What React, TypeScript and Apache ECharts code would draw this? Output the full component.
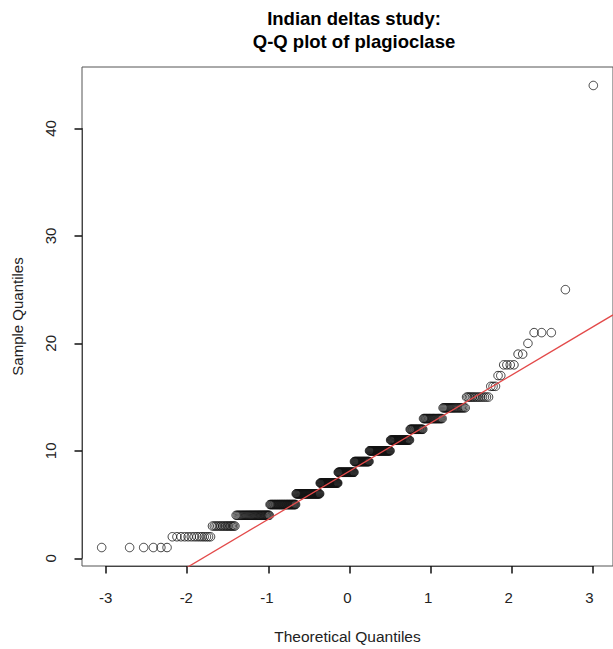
import React, { useEffect, useRef } from "react";
import * as echarts from "echarts";

// Sample values (sorted distinct) and how many observations take each value
const sampleValues = [1, 2, 3, 4, 5, 6, 7, 8, 9, 10, 11, 12, 13, 14, 15, 16, 17, 18, 19, 20, 21, 25, 44];
const sampleCounts = [6, 14, 16, 37, 41, 46, 38, 35, 32, 42, 34, 20, 24, 21, 14, 3, 2, 4, 2, 1, 3, 1, 1];
const xTicks = [-3, -2, -1, 0, 1, 2, 3];
const yTicks = [0, 10, 20, 30, 40];

const FONT = "'Liberation Sans', Arial, Helvetica, sans-serif";

function qnorm(p: number): number {
  const a = [-3.969683028665376e1, 2.209460984245205e2, -2.759285104469687e2, 1.38357751867269e2, -3.066479806614716e1, 2.506628277459239];
  const b = [-5.447609879822406e1, 1.615858368580409e2, -1.556989798598866e2, 6.680131188771972e1, -1.328068155288572e1];
  const c = [-7.784894002430293e-3, -3.223964580411365e-1, -2.400758277161838, -2.549732539343734, 4.374664141464968, 2.938163982698783];
  const d = [7.784695709041462e-3, 3.224671290700398e-1, 2.445134137142996, 3.754408661907416];
  const plow = 0.02425;
  const phigh = 1 - plow;
  if (p < plow) {
    const q = Math.sqrt(-2 * Math.log(p));
    return (((((c[0] * q + c[1]) * q + c[2]) * q + c[3]) * q + c[4]) * q + c[5]) / ((((d[0] * q + d[1]) * q + d[2]) * q + d[3]) * q + 1);
  }
  if (p <= phigh) {
    const q = p - 0.5;
    const r = q * q;
    return ((((((a[0] * r + a[1]) * r + a[2]) * r + a[3]) * r + a[4]) * r + a[5]) * q) / (((((b[0] * r + b[1]) * r + b[2]) * r + b[3]) * r + b[4]) * r + 1);
  }
  const q = Math.sqrt(-2 * Math.log(1 - p));
  return -(((((c[0] * q + c[1]) * q + c[2]) * q + c[3]) * q + c[4]) * q + c[5]) / ((((d[0] * q + d[1]) * q + d[2]) * q + d[3]) * q + 1);
}

function quantile7(sorted: number[], prob: number): number {
  const h = (sorted.length - 1) * prob;
  const lo = Math.floor(h);
  const hi = Math.ceil(h);
  return sorted[lo] + (h - lo) * (sorted[hi] - sorted[lo]);
}

export default function App() {
  const ref = useRef<HTMLDivElement>(null);

  useEffect(() => {
    if (!ref.current) return;
    const chart = echarts.init(ref.current, null, { renderer: "svg" });

    const sample: number[] = [];
    sampleValues.forEach((v, k) => {
      for (let j = 0; j < sampleCounts[k]; j++) sample.push(v);
    });
    const n = sample.length;
    const points = sample.map((v, i) => [qnorm((i + 1 - 0.5) / n), v]);

    const xs = points.map((p) => p[0]);
    const xMinD = Math.min(...xs);
    const xMaxD = Math.max(...xs);
    const xPad = (xMaxD - xMinD) * 0.04;
    const yMinD = Math.min(...sample);
    const yMaxD = Math.max(...sample);
    const yPad = (yMaxD - yMinD) * 0.04;
    const xMin = xMinD - xPad;
    const xMax = xMaxD + xPad;
    const yMin = yMinD - yPad;
    const yMax = yMaxD + yPad;

    const q1 = quantile7(sample, 0.25);
    const q3 = quantile7(sample, 0.75);
    const slope = (q3 - q1) / (qnorm(0.75) - qnorm(0.25));
    const intercept = q1 - slope * qnorm(0.25);
    const lineData = [
      [xMin, intercept + slope * xMin],
      [xMax, intercept + slope * xMax],
    ];

    // Main plot region (pixels)
    const GL = 82, GT = 67, GW = 535, GH = 499;
    // Secondary "tick" grids spanning exactly the first..last tick, like R's axis()
    const pxX = (v: number) => GL + ((v - xMin) / (xMax - xMin)) * GW;
    const pxY = (v: number) => GT + GH - ((v - yMin) / (yMax - yMin)) * GH;
    const tx0 = pxX(xTicks[0]);
    const tx1 = pxX(xTicks[xTicks.length - 1]);
    const ty0 = pxY(yTicks[yTicks.length - 1]);
    const ty1 = pxY(yTicks[0]);

    const TICK = 7.5;
    const TICK_COLOR = "#111";

    chart.setOption({
      animation: false,
      backgroundColor: "#ffffff",
      title: {
        text: "Indian deltas study:\nQ-Q plot of plagioclase",
        left: 349,
        textAlign: "center",
        top: 2,
        textStyle: {
          fontFamily: FONT,
          fontSize: 18.5,
          fontWeight: "bold",
          color: "#000",
          lineHeight: 23,
        },
      },
      grid: [
        {
          left: GL,
          top: GT,
          width: GW,
          height: GH,
          show: true,
          borderColor: "#555",
          borderWidth: 1,
          backgroundColor: "transparent",
        },
        { left: tx0, top: GT, width: tx1 - tx0, height: GH, show: false },
        { left: GL, top: ty0, width: GW, height: ty1 - ty0, show: false },
      ],
      xAxis: [
        {
          type: "value",
          gridIndex: 0,
          min: xMin,
          max: xMax,
          splitLine: { show: false },
          axisLine: { show: false, onZero: false },
          axisTick: { show: false },
          axisLabel: {
            show: true,
            customValues: xTicks,
            margin: 24,
            fontFamily: FONT,
            fontSize: 15,
            color: "#222",
          },
          name: "Theoretical Quantiles",
          nameLocation: "middle",
          nameGap: 62,
          nameTextStyle: { fontFamily: FONT, fontSize: 15.5, color: "#222" },
        },
        {
          type: "value",
          gridIndex: 1,
          position: "bottom",
          min: xTicks[0],
          max: xTicks[xTicks.length - 1],
          interval: 1,
          splitLine: { show: false },
          axisLine: { show: true, onZero: false, lineStyle: { color: "#444", width: 1 } },
          axisTick: { show: true, inside: false, length: TICK, lineStyle: { color: TICK_COLOR, width: 1.5 } },
          axisLabel: { show: false },
        },
        {
          type: "value",
          gridIndex: 2,
          min: xMin,
          max: xMax,
          show: false,
        },
      ],
      yAxis: [
        {
          type: "value",
          gridIndex: 0,
          min: yMin,
          max: yMax,
          splitLine: { show: false },
          axisLine: { show: false, onZero: false },
          axisTick: { show: false },
          axisLabel: {
            show: true,
            customValues: yTicks,
            rotate: 90,
            margin: 24,
            fontFamily: FONT,
            fontSize: 15,
            color: "#222",
          },
          name: "Sample Quantiles",
          nameLocation: "middle",
          nameRotate: 90,
          nameGap: 57,
          nameTextStyle: { fontFamily: FONT, fontSize: 15, color: "#222" },
        },
        {
          type: "value",
          gridIndex: 1,
          min: yMin,
          max: yMax,
          show: false,
        },
        {
          type: "value",
          gridIndex: 2,
          position: "left",
          min: yTicks[0],
          max: yTicks[yTicks.length - 1],
          interval: 10,
          splitLine: { show: false },
          axisLine: { show: true, onZero: false, lineStyle: { color: "#444", width: 1 } },
          axisTick: { show: true, inside: false, length: TICK, lineStyle: { color: TICK_COLOR, width: 1.5 } },
          axisLabel: { show: false },
        },
      ],
      series: [
        {
          type: "scatter",
          xAxisIndex: 0,
          yAxisIndex: 0,
          data: points,
          symbol: "circle",
          symbolSize: 8.5,
          itemStyle: { color: "rgba(0,0,0,0)", borderColor: "#111", borderWidth: 1 },
          emphasis: { disabled: true },
          z: 2,
        },
        {
          type: "line",
          xAxisIndex: 0,
          yAxisIndex: 0,
          data: lineData,
          showSymbol: false,
          symbol: "none",
          clip: true,
          lineStyle: { color: "#E34A4A", width: 1.3 },
          emphasis: { disabled: true },
          z: 3,
        },
      ],
    });

    return () => chart.dispose();
  }, []);

  return (
    <div
      ref={ref}
      style={{ position: "fixed", left: 0, top: 0, width: 613, height: 649 }}
    />
  );
}
